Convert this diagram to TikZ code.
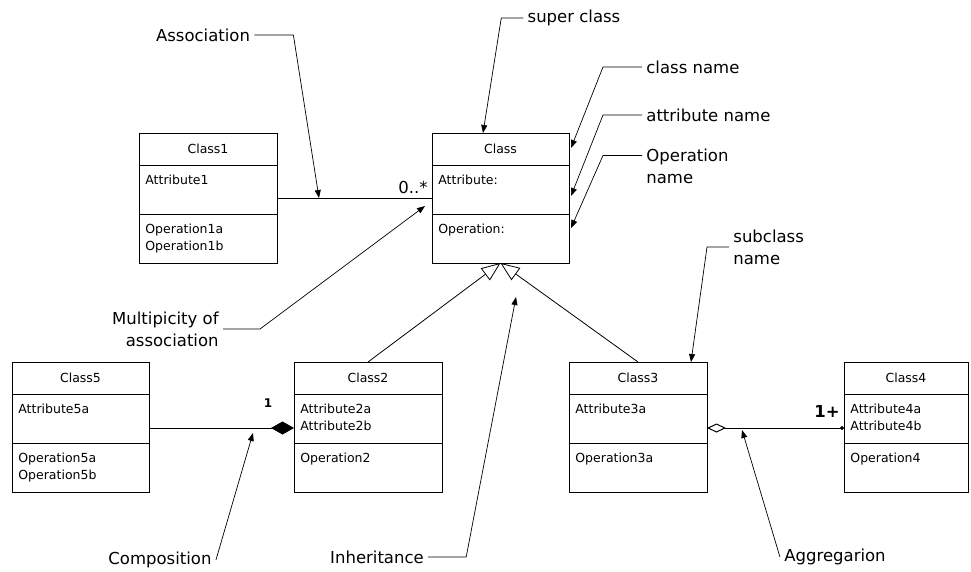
\documentclass[tikz,border=0pt]{standalone}
\usepackage{fontspec}
\setmainfont{DejaVu Sans}
\usetikzlibrary{positioning,arrows.meta}

\newcommand{\boxfont}{\fontsize{12.5}{17.5}\selectfont}
\newcommand{\notefont}{\fontsize{16.5}{22}\selectfont}

\begin{document}
\begin{tikzpicture}[x=1pt, y=-1pt, line width=0.8pt]
	% Define styles
	\tikzstyle{classname} = [rectangle, draw, anchor=north west, minimum height=32pt, inner sep=0pt, outer sep=0pt, font=\boxfont]
	\tikzstyle{compart} = [rectangle, draw, minimum height=49pt, inner sep=0pt, outer sep=0pt]
	\tikzstyle{member} = [anchor=north west, inner sep=0pt, align=left, font=\boxfont, xshift=6pt, yshift=-9.5pt]
	\tikzstyle{note} = [inner sep=4pt, font=\notefont]
	\tikzstyle{pointer} = [line width=0.7pt, -{Triangle[length=8pt,width=6pt]}]

	\useasboundingbox (0,0) rectangle (971,571);

	% Super class
	\node[classname, minimum width=137pt] (base) at (432,133) {Class};
	\node[compart, minimum width=137pt, below=0pt of base] (baseattr) {};
	\node[compart, minimum width=137pt, below=0pt of baseattr] (baseops) {};
	\node[member] (basea) at (baseattr.north west) {Attribute:};
	\node[member] (baseo) at (baseops.north west) {Operation:};

	% Class1
	\node[classname, minimum width=138pt] (c1) at (139,133) {Class1};
	\node[compart, minimum width=138pt, below=0pt of c1] (c1attr) {};
	\node[compart, minimum width=138pt, below=0pt of c1attr] (c1ops) {};
	\node[member] (c1a) at (c1attr.north west) {Attribute1};
	\node[member] (c1o) at (c1ops.north west) {Operation1a\\Operation1b};

	% Class5
	\node[classname, minimum width=137pt] (c5) at (12,362) {Class5};
	\node[compart, minimum width=137pt, below=0pt of c5] (c5attr) {};
	\node[compart, minimum width=137pt, below=0pt of c5attr] (c5ops) {};
	\node[member] (c5a) at (c5attr.north west) {Attribute5a};
	\node[member] (c5o) at (c5ops.north west) {Operation5a\\Operation5b};

	% Class2
	\node[classname, minimum width=148pt] (c2) at (294,362) {Class2};
	\node[compart, minimum width=148pt, below=0pt of c2] (c2attr) {};
	\node[compart, minimum width=148pt, below=0pt of c2attr] (c2ops) {};
	\node[member] (c2a) at (c2attr.north west) {Attribute2a\\Attribute2b};
	\node[member] (c2o) at (c2ops.north west) {Operation2};

	% Class3
	\node[classname, minimum width=138pt] (c3) at (569,362) {Class3};
	\node[compart, minimum width=138pt, below=0pt of c3] (c3attr) {};
	\node[compart, minimum width=138pt, below=0pt of c3attr] (c3ops) {};
	\node[member] (c3a) at (c3attr.north west) {Attribute3a};
	\node[member] (c3o) at (c3ops.north west) {Operation3a};

	% Class4
	\node[classname, minimum width=124pt] (c4) at (844,362) {Class4};
	\node[compart, minimum width=124pt, below=0pt of c4] (c4attr) {};
	\node[compart, minimum width=124pt, below=0pt of c4attr] (c4ops) {};
	\node[member] (c4a) at (c4attr.north west) {Attribute4a\\Attribute4b};
	\node[member] (c4o) at (c4ops.north west) {Operation4};

	% Relations
	\draw[line width=1pt] ([yshift=-9pt]c1attr.east) -- ([yshift=-9pt]baseattr.west);
	\node[note, anchor=south east] (mult) at ([yshift=-9pt]baseattr.west) {0..*};
	\draw[-{Diamond[length=23pt,width=13pt]}] ([yshift=-9.5pt]c5attr.east) -- ([yshift=-9.5pt]c2attr.west);
	\node[font=\fontsize{12}{14}\selectfont\bfseries] (one) at (268,403) {1};
	\draw[line width=1pt, {Diamond[open,length=19pt,width=9pt]}-{Circle[length=4pt]}] ([yshift=-9.5pt]c3attr.east) -- ([yshift=-9.5pt]c4attr.west);
	\node[font=\notefont\bfseries] (oneplus) at (827,411) {1+};
	\draw[-{Triangle[open,length=19pt,width=15pt]}] (c2.north) -- (baseops.south);
	\draw[-{Triangle[open,length=19pt,width=15pt]}] (c3.north) -- (baseops.south);

	% Notes
	\node[note] (assoc) at (203,35) {Association};
	\node[note] (superc) at (574,18) {super class};
	\node[note, anchor=west] (clsname) at (642,67) {class name};
	\node[note, anchor=west] (attrname) at (642,115) {attribute name};
	\node[note, anchor=north west, align=left] (opname) at (642,144.5) {Operation\\name};
	\node[note, anchor=north west, align=left] (subcls) at (729,226) {subclass\\name};
	\node[note, anchor=east, align=right] (multip) at (223,329) {Multipicity of\\association};
	\node[note] (compos) at (160,560) {Composition};
	\node[note] (inher) at (377,557) {Inheritance};
	\node[note] (aggr) at (835,557) {Aggregarion};

	% Pointer targets
	\coordinate (asstip) at (319,198);
	\coordinate (suptip) at ([xshift=51pt]base.north west);
	\coordinate (clstip) at ([xshift=2pt,yshift=-15pt]base.north east);
	\coordinate (attrtip) at ([xshift=2pt,yshift=-31pt]baseattr.north east);
	\coordinate (optip) at ([xshift=2pt,yshift=-14pt]baseops.north east);
	\coordinate (subtip) at ([xshift=-16pt]c3.north east);
	\coordinate (multtip) at (425,206);
	\coordinate (comptip) at (253,433);
	\coordinate (inhtip) at (516,297);
	\coordinate (aggtip) at (742,430);

	% Pointers
	\draw[pointer] (assoc.east) -- ++(39,0) -- (asstip);
	\draw[pointer] (superc.west) -- ++(-22,0) -- (suptip);
	\draw[pointer] (clsname.west) -- ++(-39,0) -- (clstip);
	\draw[pointer] (attrname.west) -- ++(-39,0) -- (attrtip);
	\draw[pointer] ([yshift=-11pt]opname.north west) -- ++(-39,0) -- (optip);
	\draw[pointer] ([yshift=-21pt]subcls.north west) -- ++(-22,0) -- (subtip);
	\draw[pointer] (multip.east) -- ++(37,0) -- (multtip);
	\draw[pointer] (compos.east) -- (comptip);
	\draw[pointer] (inher.east) -- ++(38,0) -- (inhtip);
	\draw[pointer] (aggr.west) -- (aggtip);
\end{tikzpicture}
\end{document}
